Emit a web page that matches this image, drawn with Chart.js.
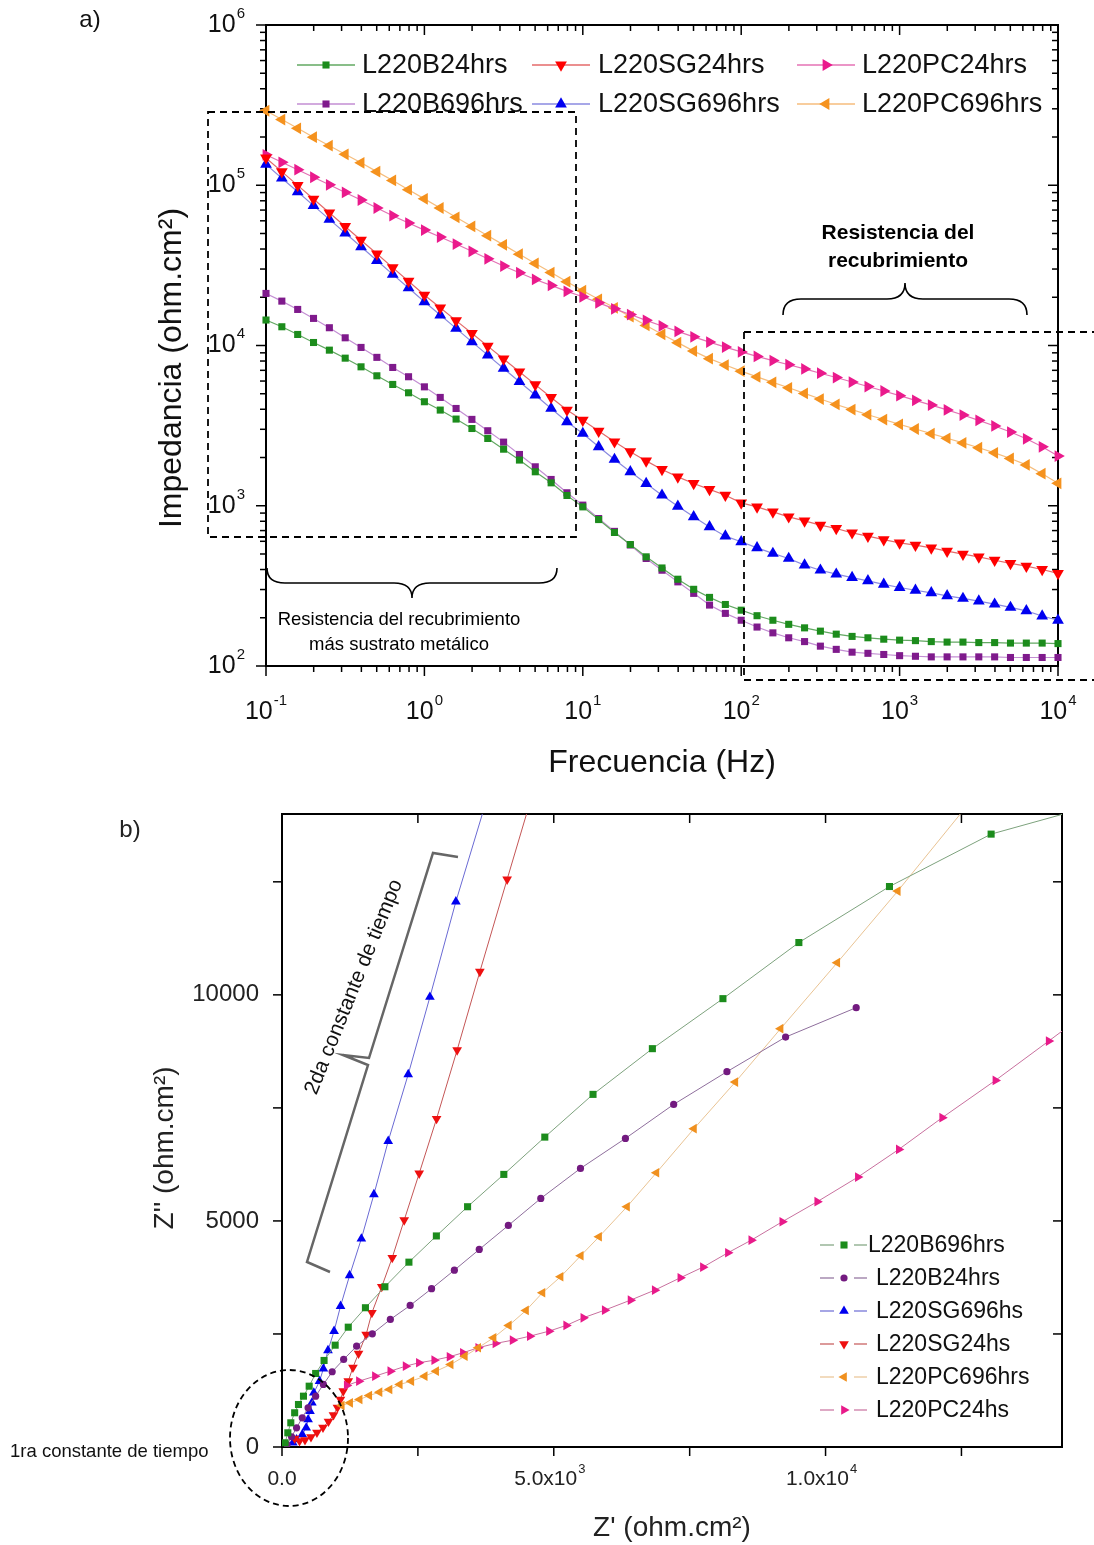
<!DOCTYPE html>
<html>
<head>
<meta charset="utf-8">
<script src="https://cdn.jsdelivr.net/npm/chart.js@4.4.1/dist/chart.umd.min.js"></script>
<style>
  body { margin: 0; background: #fff; }
  #wrap { position: relative; width: 1094px; height: 1545px; }
  #bode { position: absolute; left: 0; top: 0; }
  #nyq { position: absolute; left: 0; top: 790px; }
</style>
</head>
<body>
<div id="wrap">
  <canvas id="bode" width="1094" height="790"></canvas>
  <canvas id="nyq" width="1094" height="755"></canvas>
</div>
<script>
// ---- a) Bode data: |Z| (ohm.cm2) vs frequency (Hz), 0.1 Hz -> 10 kHz
const freq = [0.1, 0.1259, 0.1585, 0.1995, 0.2512, 0.3162, 0.3981, 0.5012, 0.631, 0.7943,
  1, 1.259, 1.585, 1.995, 2.512, 3.162, 3.981, 5.012, 6.31, 7.943,
  10, 12.59, 15.85, 19.95, 25.12, 31.62, 39.81, 50.12, 63.1, 79.43,
  100, 125.9, 158.5, 199.5, 251.2, 316.2, 398.1, 501.2, 631, 794.3,
  1000, 1259, 1585, 1995, 2512, 3162, 3981, 5012, 6310, 7943, 10000];

const zB24 = [14420, 13090, 11720, 10440, 9354, 8337, 7362, 6471, 5715, 5070,
  4457, 3954, 3475, 3034, 2630, 2254, 1928, 1629, 1390, 1159,
  984, 820, 681, 573, 480, 409, 348, 301, 268, 242,
  223, 206, 193, 182, 173, 165, 158, 153, 150, 147,
  145, 144, 142, 141, 141, 140, 140, 139, 139, 139, 138];
const zB696 = [21130, 18920, 16790, 14760, 12910, 11170, 9727, 8433, 7295, 6383,
  5521, 4742, 4046, 3459, 2938, 2495, 2089, 1750, 1459, 1205,
  1009, 832, 692, 569, 469, 396, 335, 284, 240, 213,
  193, 175, 161, 150, 142, 133, 127, 122, 120, 118,
  116, 115, 114, 114, 114, 114, 114, 113, 113, 113, 113];
const zSG24 = [147900, 121600, 99770, 82040, 67300, 55340, 45390, 37330, 30620, 25180,
  20650, 17180, 14290, 11910, 9908, 8241, 6855, 5702, 4742, 3954,
  3420, 2924, 2506, 2173, 1905, 1683, 1514, 1377, 1265, 1164,
  1042, 984, 916, 853, 805, 757, 721, 678, 646, 615,
  586, 568, 546, 521, 499, 480, 457, 437, 420, 400, 378];
const zSG696 = [134900, 110700, 91000, 74650, 61240, 50350, 41300, 33880, 27800, 22860,
  18750, 15490, 12790, 10540, 8710, 7194, 5943, 4909, 4046, 3342,
  2825, 2333, 1945, 1629, 1377, 1164, 993, 853, 738, 646,
  596, 546, 504, 469, 426, 396, 374, 356, 340, 323,
  309, 297, 286, 274, 264, 254, 243, 232, 221, 205, 193];
const zPC24 = [154900, 139000, 125000, 112200, 100700, 90160, 80910, 72110, 64570, 58070,
  52480, 47530, 42950, 38730, 34750, 31330, 28440, 25820, 23710, 21780,
  20140, 18450, 16940, 15600, 14350, 13240, 12250, 11320, 10500, 9772,
  9120, 8551, 8054, 7586, 7145, 6714, 6310, 5916, 5546, 5200,
  4864, 4550, 4246, 3963, 3681, 3412, 3148, 2884, 2618, 2333, 2042];
const zPC696 = [291700, 257000, 226500, 199500, 176600, 156000, 138000, 121600, 107200, 93760,
  82220, 72110, 63100, 55340, 48420, 42460, 37150, 32510, 28510, 25000,
  21980, 19410, 17180, 15140, 13340, 11750, 10420, 9226, 8279, 7551,
  6918, 6368, 5888, 5445, 5023, 4634, 4285, 3981, 3698, 3451,
  3221, 3013, 2818, 2636, 2466, 2301, 2138, 1972, 1799, 1585, 1380];

const bodeTickX = [0.1, 1, 10, 100, 1000, 10000];
const bodeExpX = ['-1', '0', '1', '2', '3', '4'];
const bodeTickY = [100, 1000, 10000, 100000, 1000000];
const bodeExpY = ['2', '3', '4', '5', '6'];

// ---- b) Nyquist data: Z' and Z'' (ohm.cm2)
const nB696Re = [15220, 13046, 11176, 9509, 8112, 6814, 5722, 4835, 4081, 3414, 2840, 2335, 1893, 1535, 1219, 978, 774, 619, 500, 395, 303, 233, 162, 107, 57];
const nB696Im = [14281, 13555, 12396, 11157, 9916, 8810, 7799, 6854, 6029, 5314, 4668, 4088, 3544, 3080, 2650, 2252, 1914, 1626, 1345, 1124, 940, 757, 535, 314, 93];
const nB24Re = [10564, 9265, 8186, 7206, 6318, 5491, 4761, 4164, 3629, 3171, 2752, 2358, 1993, 1662, 1373, 1134, 923, 761, 619, 480, 373, 268, 176, 92];
const nB24Im = [9717, 9066, 8301, 7577, 6825, 6161, 5498, 4900, 4369, 3911, 3502, 3131, 2821, 2504, 2230, 1936, 1664, 1383, 1124, 867, 646, 425, 226, 55];
const nSG696Re = [3768, 3199, 2721, 2322, 1954, 1691, 1460, 1244, 1077, 958, 846, 761, 691, 585, 550, 515, 480, 445, 373, 268, 199];
const nSG696Im = [14325, 12062, 9951, 8241, 6765, 5586, 4606, 3794, 3115, 2562, 2135, 1730, 1456, 1199, 978, 792, 608, 425, 277, 166, 93];
const nSG24Re = [4688, 4142, 3640, 3222, 2844, 2524, 2248, 2028, 1835, 1654, 1548, 1408, 1305, 1219, 1127, 1075, 1020, 947, 855, 754, 643, 533, 423, 322, 233];
const nSG24Im = [14768, 12555, 10513, 8779, 7261, 6051, 5018, 4186, 3544, 2969, 2489, 2069, 1759, 1456, 1235, 1051, 874, 708, 564, 431, 321, 221, 155, 133, 188];
const nPC696Re = [12923, 11329, 10215, 9173, 8340, 7579, 6888, 6347, 5833, 5496, 5125, 4792, 4489, 4173, 3892, 3610, 3364, 3103, 2836, 2625, 2379, 2167, 1978, 1794, 1605, 1428, 1254, 1099];
const nPC696Im = [14657, 12296, 10712, 9252, 8071, 7040, 6066, 5314, 4650, 4230, 3765, 3412, 3020, 2688, 2416, 2195, 2009, 1825, 1677, 1566, 1456, 1383, 1272, 1212, 1139, 1051, 978, 918];
const nPC24Re = [15037, 14105, 13125, 12145, 11347, 10594, 9847, 9204, 8634, 8204, 7744, 7329, 6857, 6412, 5938, 5544, 5228, 4912, 4559, 4243, 3926, 3610, 3327, 3083, 2801, 2518, 2274, 1993, 1710, 1415, 1191];
const nPC24Im = [9812, 8978, 8108, 7283, 6582, 5969, 5425, 4982, 4575, 4296, 3978, 3743, 3469, 3248, 3027, 2858, 2688, 2562, 2451, 2363, 2290, 2195, 2084, 1996, 1920, 1863, 1788, 1677, 1566, 1456, 1361];

const nyqTickY = [0, 5000, 10000];
const nyqTickX = [0, 5000, 10000];
const nyqLabX = [['0.0', ''], ['5.0x10', '3'], ['1.0x10', '4']];

const FONT = '"Liberation Sans", Arial, sans-serif';

// marker / line styles
const stB24 = { mk: '#1c8c1c', ln: '#62a862', ps: 'rect', rot: 0, r: 5 };
const stB696 = { mk: '#7f1a8c', ln: '#c38ed3', ps: 'rect', rot: 0, r: 5 };
const stSG24 = { mk: '#ff0000', ln: '#e46a6a', ps: 'triangle', rot: 180, r: 6.8 };
const stSG696 = { mk: '#0000f0', ln: '#8a8ae0', ps: 'triangle', rot: 0, r: 6.8 };
const stPC24 = { mk: '#ea1a8c', ln: '#e472b4', ps: 'triangle', rot: 90, r: 6.8 };
const stPC696 = { mk: '#f5921e', ln: '#f6bd7c', ps: 'triangle', rot: 270, r: 6.8 };

const nstB696 = { mk: '#1c8c1c', ln: '#7da27d', ps: 'rect', rot: 0, r: 5 };
const nstB24 = { mk: '#731a80', ln: '#8e6e9c', ps: 'circle', rot: 0, r: 3.6 };
const nstSG696 = { mk: '#0000f0', ln: '#6a6ad4', ps: 'triangle', rot: 0, r: 5.6 };
const nstSG24 = { mk: '#ee1010', ln: '#c45656', ps: 'triangle', rot: 180, r: 5.6 };
const nstPC696 = { mk: '#f0901e', ln: '#e9c393', ps: 'triangle', rot: 270, r: 5.6 };
const nstPC24 = { mk: '#e81a8a', ln: '#c8709e', ps: 'triangle', rot: 90, r: 5.6 };

function line(ctx, x1, y1, x2, y2) {
  ctx.beginPath(); ctx.moveTo(x1, y1); ctx.lineTo(x2, y2); ctx.stroke();
}

function powLabel(ctx, base, exp, x, y, align, size) {
  const es = Math.round(size * 0.6);
  ctx.font = size + 'px ' + FONT;
  const wb = ctx.measureText(base).width;
  ctx.font = es + 'px ' + FONT;
  const we = exp ? ctx.measureText(exp).width + 1 : 0;
  let x0 = x;
  if (align === 'right') x0 = x - wb - we;
  if (align === 'center') x0 = x - (wb + we) / 2;
  ctx.textAlign = 'left';
  ctx.textBaseline = 'middle';
  ctx.font = size + 'px ' + FONT;
  ctx.fillText(base, x0, y);
  if (exp) {
    ctx.font = es + 'px ' + FONT;
    ctx.fillText(exp, x0 + wb + 1, y - size * 0.45);
  }
}

function marker(ctx, st, x, y) {
  ctx.fillStyle = st.mk;
  Chart.helpers.drawPoint(ctx, { pointStyle: st.ps, rotation: st.rot, radius: st.r, borderWidth: 0 }, x, y);
}

// curly brace along x, ends at y, tip at y + h
function brace(ctx, x1, x2, y, h) {
  const xm = (x1 + x2) / 2, q = h / 2, r = 18;
  ctx.beginPath();
  ctx.moveTo(x1, y);
  ctx.quadraticCurveTo(x1, y + q, x1 + r, y + q);
  ctx.lineTo(xm - r, y + q);
  ctx.quadraticCurveTo(xm, y + q, xm, y + h);
  ctx.quadraticCurveTo(xm, y + q, xm + r, y + q);
  ctx.lineTo(x2 - r, y + q);
  ctx.quadraticCurveTo(x2, y + q, x2, y);
  ctx.stroke();
}

function bodeSet(label, z, st) {
  return {
    label: label,
    data: freq.map((f, i) => ({ x: f, y: z[i] })),
    borderColor: st.ln, borderWidth: 1.2,
    backgroundColor: st.mk, pointBackgroundColor: st.mk, pointBorderWidth: 0,
    pointStyle: st.ps, pointRotation: st.rot, pointRadius: st.r, pointHoverRadius: st.r,
    tension: 0, clip: false
  };
}

function nyqSet(label, re, im, st) {
  return {
    label: label,
    data: re.map((v, i) => ({ x: v, y: im[i] })),
    borderColor: st.ln, borderWidth: 1,
    backgroundColor: st.mk, pointBackgroundColor: st.mk, pointBorderWidth: 0,
    pointStyle: st.ps, pointRotation: st.rot, pointRadius: st.r, pointHoverRadius: st.r,
    tension: 0
  };
}

// ---------- a) Bode plot ----------
const bodeDecor = {
  id: 'bodeDecor',
  beforeDatasetsDraw(chart) {
    const { ctx, chartArea: ca, scales: { x, y } } = chart;
    ctx.save();
    ctx.strokeStyle = '#000';
    ctx.lineWidth = 2;
    ctx.strokeRect(ca.left, ca.top, ca.right - ca.left, ca.bottom - ca.top);
    ctx.lineWidth = 1.5;
    for (let e = -1; e <= 4; e++) {
      for (let m = 1; m <= 9; m++) {
        const v = m * Math.pow(10, e);
        if (v > 10000.1) break;
        const px = x.getPixelForValue(v), len = m === 1 ? 10 : 6;
        line(ctx, px, ca.bottom, px, ca.bottom + len);
        line(ctx, px, ca.top, px, ca.top + len);
      }
    }
    for (let e = 2; e <= 6; e++) {
      for (let m = 1; m <= 9; m++) {
        const v = m * Math.pow(10, e);
        if (v > 1000001) break;
        const py = y.getPixelForValue(v), len = m === 1 ? 10 : 6;
        line(ctx, ca.left, py, ca.left - len, py);
        line(ctx, ca.right, py, ca.right - len, py);
      }
    }
    ctx.restore();
  },
  afterDraw(chart) {
    const { ctx, chartArea: ca, scales: { x, y } } = chart;
    ctx.save();
    ctx.fillStyle = '#111';
    bodeTickX.forEach((v, i) => powLabel(ctx, '10', bodeExpX[i], x.getPixelForValue(v), 712, 'center', 25));
    bodeTickY.forEach((v, i) => powLabel(ctx, '10', bodeExpY[i], 245, y.getPixelForValue(v), 'right', 25));

    ctx.textAlign = 'center';
    ctx.textBaseline = 'middle';
    ctx.font = '32px ' + FONT;
    ctx.fillText('Frecuencia (Hz)', 662, 763);
    ctx.save();
    ctx.translate(172, 368);
    ctx.rotate(-Math.PI / 2);
    ctx.fillText('Impedancia (ohm.cm\u00B2)', 0, 0);
    ctx.restore();

    ctx.font = '24px ' + FONT;
    ctx.fillText('a)', 90, 20);

    // legend
    const cols = [{ l: 297, r: 355, m: 326, t: 362 }, { l: 532, r: 590, m: 561, t: 598 }, { l: 797, r: 855, m: 826, t: 862 }];
    const rows = [65, 104];
    const items = [
      [['L220B24hrs', stB24], ['L220SG24hrs', stSG24], ['L220PC24hrs', stPC24]],
      [['L220B696hrs', stB696], ['L220SG696hrs', stSG696], ['L220PC696hrs', stPC696]]
    ];
    items.forEach((row, ri) => row.forEach((it, ci) => {
      const c = cols[ci], yy = rows[ri], st = it[1];
      ctx.strokeStyle = st.ln; ctx.lineWidth = 1.4;
      line(ctx, c.l, yy, c.r, yy);
      marker(ctx, st, c.m, yy);
      ctx.fillStyle = '#111';
      ctx.font = '27px ' + FONT;
      ctx.textAlign = 'left';
      ctx.textBaseline = 'middle';
      ctx.fillText(it[0], c.t, yy + 1);
    }));

    // dashed boxes
    ctx.strokeStyle = '#000';
    ctx.lineWidth = 1.8;
    ctx.setLineDash([7, 5]);
    ctx.strokeRect(208, 112, 576 - 208, 537 - 112);
    line(ctx, 744, 332, 1094, 332);
    line(ctx, 744, 332, 744, 680);
    line(ctx, 744, 680, 1094, 680);
    ctx.setLineDash([]);

    // braces
    ctx.lineWidth = 1.6;
    brace(ctx, 267, 557, 568, 30);
    brace(ctx, 783, 1027, 315, -32);

    ctx.fillStyle = '#000';
    ctx.textAlign = 'center';
    ctx.font = '18.5px ' + FONT;
    ctx.fillText('Resistencia del recubrimiento', 399, 620);
    ctx.fillText('más sustrato metálico', 399, 645);
    ctx.font = 'bold 21px ' + FONT;
    ctx.fillText('Resistencia del', 898, 233);
    ctx.fillText('recubrimiento', 898, 261);
    ctx.restore();
  }
};

new Chart(document.getElementById('bode'), {
  type: 'line',
  data: {
    datasets: [
      bodeSet('L220B24hrs', zB24, stB24),
      bodeSet('L220B696hrs', zB696, stB696),
      bodeSet('L220SG24hrs', zSG24, stSG24),
      bodeSet('L220SG696hrs', zSG696, stSG696),
      bodeSet('L220PC24hrs', zPC24, stPC24),
      bodeSet('L220PC696hrs', zPC696, stPC696)
    ]
  },
  options: {
    responsive: false,
    animation: false,
    devicePixelRatio: 1,
    layout: { padding: { top: 25, right: 36, left: 0, bottom: 0 } },
    plugins: { legend: { display: false }, tooltip: { enabled: false } },
    scales: {
      x: {
        type: 'logarithmic', min: 0.1, max: 10000,
        grid: { display: false }, border: { display: false }, ticks: { display: false },
        afterFit(s) { s.height = 124; }
      },
      y: {
        type: 'logarithmic', min: 100, max: 1000000,
        grid: { display: false }, border: { display: false }, ticks: { display: false },
        afterFit(s) { s.width = 266; }
      }
    }
  },
  plugins: [bodeDecor]
});

// ---------- b) Nyquist plot ----------
const nyqDecor = {
  id: 'nyqDecor',
  beforeDatasetsDraw(chart) {
    const { ctx, chartArea: ca, scales: { x, y } } = chart;
    ctx.save();
    ctx.strokeStyle = '#000';
    ctx.lineWidth = 2;
    ctx.strokeRect(ca.left, ca.top, ca.right - ca.left, ca.bottom - ca.top);
    ctx.lineWidth = 1.5;
    for (let v = 0; v <= x.max; v += 2500) {
      const px = x.getPixelForValue(v);
      line(ctx, px, ca.bottom, px, ca.bottom + 9);
      line(ctx, px, ca.top, px, ca.top + 9);
    }
    for (let v = 0; v <= y.max; v += 2500) {
      const py = y.getPixelForValue(v);
      line(ctx, ca.left, py, ca.left - 9, py);
      line(ctx, ca.right, py, ca.right - 9, py);
    }
    ctx.restore();
  },
  afterDraw(chart) {
    const { ctx, chartArea: ca, scales: { x, y } } = chart;
    ctx.save();
    ctx.fillStyle = '#222';
    ctx.font = '24px ' + FONT;
    ctx.textAlign = 'right';
    ctx.textBaseline = 'middle';
    nyqTickY.forEach(v => ctx.fillText(String(v), 259, y.getPixelForValue(v)));
    nyqTickX.forEach((v, i) => powLabel(ctx, nyqLabX[i][0], nyqLabX[i][1], x.getPixelForValue(v) - (i ? 4 : 0), 689, 'center', 21));

    ctx.textAlign = 'center';
    ctx.font = '28px ' + FONT;
    ctx.fillText("Z' (ohm.cm\u00B2)", 672, 738);
    ctx.save();
    ctx.translate(165, 358);
    ctx.rotate(-Math.PI / 2);
    ctx.fillText("Z'' (ohm.cm\u00B2)", 0, 0);
    ctx.restore();

    ctx.font = '24px ' + FONT;
    ctx.fillText('b)', 130, 40);

    // legend
    const items = [['L220B696hrs', nstB696], ['L220B24hrs', nstB24], ['L220SG696hs', nstSG696],
      ['L220SG24hs', nstSG24], ['L220PC696hrs', nstPC696], ['L220PC24hs', nstPC24]];
    items.forEach((it, i) => {
      const yy = 455 + i * 33, st = it[1];
      ctx.strokeStyle = st.ln; ctx.lineWidth = 1.2;
      line(ctx, 820, yy, 834, yy);
      line(ctx, 854, yy, 867, yy);
      marker(ctx, st, 844, yy);
      ctx.fillStyle = '#111';
      ctx.font = '23px ' + FONT;
      ctx.textAlign = 'left';
      ctx.fillText(it[0], i === 0 ? 868 : 876, yy + 1);
    });

    // bracket for the 2nd time constant
    ctx.strokeStyle = '#666';
    ctx.lineWidth = 2.5;
    ctx.beginPath();
    ctx.moveTo(458, 67); ctx.lineTo(433, 63); ctx.lineTo(369, 268); ctx.lineTo(343, 265);
    ctx.lineTo(368, 275); ctx.lineTo(307, 472); ctx.lineTo(330, 482);
    ctx.stroke();

    ctx.fillStyle = '#111';
    ctx.save();
    ctx.translate(354, 197);
    ctx.rotate(-68 * Math.PI / 180);
    ctx.font = '21px ' + FONT;
    ctx.textAlign = 'center';
    ctx.fillText('2da constante de tiempo', 0, 0);
    ctx.restore();

    // dashed ellipse round the 1st time constant
    ctx.strokeStyle = '#000';
    ctx.lineWidth = 1.8;
    ctx.setLineDash([6, 4]);
    ctx.beginPath();
    ctx.ellipse(289, 648, 59, 68, 0, 0, Math.PI * 2);
    ctx.stroke();
    ctx.setLineDash([]);

    ctx.font = '18.5px ' + FONT;
    ctx.textAlign = 'left';
    ctx.fillText('1ra constante de tiempo', 10, 662);
    ctx.restore();
  }
};

new Chart(document.getElementById('nyq'), {
  type: 'line',
  data: {
    datasets: [
      nyqSet('L220B696hrs', nB696Re, nB696Im, nstB696),
      nyqSet('L220B24hrs', nB24Re, nB24Im, nstB24),
      nyqSet('L220PC696hrs', nPC696Re, nPC696Im, nstPC696),
      nyqSet('L220PC24hs', nPC24Re, nPC24Im, nstPC24),
      nyqSet('L220SG24hs', nSG24Re, nSG24Im, nstSG24),
      nyqSet('L220SG696hs', nSG696Re, nSG696Im, nstSG696)
    ]
  },
  options: {
    responsive: false,
    animation: false,
    devicePixelRatio: 1,
    layout: { padding: { top: 24, right: 32, left: 0, bottom: 0 } },
    plugins: { legend: { display: false }, tooltip: { enabled: false } },
    scales: {
      x: {
        type: 'linear', min: 0, max: 14350,
        grid: { display: false }, border: { display: false }, ticks: { display: false },
        afterFit(s) { s.height = 98; }
      },
      y: {
        type: 'linear', min: 0, max: 14000,
        grid: { display: false }, border: { display: false }, ticks: { display: false },
        afterFit(s) { s.width = 282; }
      }
    }
  },
  plugins: [nyqDecor]
});
</script>
</body>
</html>
